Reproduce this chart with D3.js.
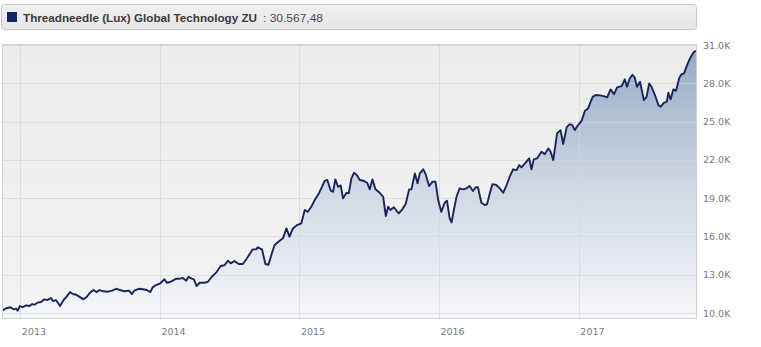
<!DOCTYPE html>
<html>
<head>
<meta charset="utf-8">
<script src="https://cdn.jsdelivr.net/npm/d3@7"></script>
<style>
  html, body { margin: 0; padding: 0; background: #fff; }
  svg { display: block; }
</style>
</head>
<body>
<svg id="chart" width="761" height="347"></svg>
<script>
// ---- data ----
const seriesName = "Threadneedle (Lux) Global Technology ZU";
const lastValueLabel = "30.567,48";
const yTickValues = [10, 13, 16, 19, 22, 25, 28, 31];           // in thousands
const yTickLabels = ["10.0K","13.0K","16.0K","19.0K","22.0K","25.0K","28.0K","31.0K"];
const xTickLabels = ["2013","2014","2015","2016","2017"];

const dates = [
"2012-11-14","2012-11-25","2012-12-06","2012-12-14","2012-12-21","2012-12-25","2012-12-31",
"2013-01-07","2013-01-16","2013-01-25","2013-02-01","2013-02-07","2013-02-15","2013-02-24",
"2013-03-05","2013-03-13","2013-03-22","2013-03-28","2013-04-04","2013-04-15","2013-04-24",
"2013-05-02","2013-05-11","2013-05-18","2013-05-27","2013-06-04","2013-06-15","2013-06-24",
"2013-07-02","2013-07-11","2013-07-20","2013-07-27","2013-08-06","2013-08-18","2013-08-29",
"2013-09-09","2013-09-19","2013-09-30","2013-10-12","2013-10-20","2013-10-26","2013-11-07",
"2013-11-17","2013-11-28","2013-12-07","2013-12-13","2013-12-22",
"2014-01-02","2014-01-13","2014-01-19","2014-01-28","2014-02-06","2014-02-13","2014-02-21",
"2014-03-02","2014-03-11","2014-03-17","2014-03-25","2014-03-31","2014-04-07","2014-04-15",
"2014-04-26","2014-05-06","2014-05-17","2014-05-28","2014-06-09","2014-06-19","2014-06-28",
"2014-07-05","2014-07-15","2014-07-26","2014-08-06","2014-08-15","2014-08-24","2014-09-01",
"2014-09-10","2014-09-14","2014-09-25","2014-10-04","2014-10-12","2014-10-21","2014-10-28",
"2014-11-07","2014-11-19","2014-11-28","2014-12-06","2014-12-15","2014-12-26",
"2015-01-06","2015-01-15","2015-01-23","2015-02-01","2015-02-10","2015-02-20","2015-03-01",
"2015-03-08","2015-03-15","2015-03-24","2015-03-30","2015-04-05","2015-04-12","2015-04-19",
"2015-04-25","2015-05-04","2015-05-10","2015-05-17","2015-05-24","2015-05-31","2015-06-08",
"2015-06-18","2015-06-27","2015-07-04","2015-07-11","2015-07-19","2015-07-30","2015-08-08",
"2015-08-15","2015-08-21","2015-08-27","2015-09-05","2015-09-12","2015-09-18","2015-09-27",
"2015-10-06","2015-10-15","2015-10-21","2015-10-30","2015-11-06","2015-11-12","2015-11-21",
"2015-11-27","2015-12-06","2015-12-15","2015-12-23","2015-12-30",
"2016-01-07","2016-01-16","2016-01-22","2016-01-29","2016-02-03","2016-02-09","2016-02-16",
"2016-02-24","2016-03-04","2016-03-13","2016-03-21","2016-03-30","2016-04-06","2016-04-12",
"2016-04-21","2016-04-30","2016-05-06","2016-05-13","2016-05-20","2016-05-30","2016-06-08",
"2016-06-17","2016-06-26","2016-07-04","2016-07-13","2016-07-22","2016-07-29","2016-08-04",
"2016-08-13","2016-08-24","2016-08-30","2016-09-05","2016-09-14","2016-09-25","2016-10-04",
"2016-10-13","2016-10-19","2016-10-26","2016-11-05","2016-11-14","2016-11-21","2016-11-30",
"2016-12-08","2016-12-15","2016-12-21","2016-12-30",
"2017-01-08","2017-01-17","2017-01-25","2017-02-06","2017-02-14","2017-02-25","2017-03-07",
"2017-03-16","2017-03-25","2017-04-03","2017-04-11","2017-04-23","2017-05-01","2017-05-07",
"2017-05-14","2017-05-21","2017-05-27","2017-06-02","2017-06-10","2017-06-20","2017-06-27",
"2017-07-04","2017-07-10","2017-07-19","2017-07-28","2017-08-03","2017-08-11","2017-08-19",
"2017-08-23","2017-08-29","2017-09-05","2017-09-12","2017-09-21","2017-09-27","2017-10-03",
"2017-10-11","2017-10-20","2017-10-29","2017-11-06"
];

// values in thousands
const values = [
10.16,10.37,10.45,10.29,10.34,10.18,10.55,
10.45,10.60,10.55,10.70,10.65,10.81,10.86,
11.07,11.02,11.17,10.92,11.02,10.55,11.02,
11.28,11.64,11.49,11.43,11.28,11.07,11.28,
11.59,11.80,11.64,11.80,11.70,11.67,11.75,
11.90,11.80,11.70,11.75,11.49,11.75,11.90,
11.86,11.80,11.64,12.01,12.19,
12.33,12.64,12.37,12.43,12.58,12.69,12.69,
12.74,12.53,12.84,12.69,12.64,12.11,12.37,
12.37,12.43,12.84,13.16,13.68,13.74,14.10,
13.89,14.07,13.84,13.84,14.21,14.62,14.99,
14.99,15.15,14.99,13.84,13.78,14.68,15.33,
15.58,15.85,16.63,15.98,16.63,16.89,
17.03,18.07,17.93,18.33,18.85,19.32,19.89,
20.36,20.42,19.58,19.50,20.47,19.89,20.00,
18.98,19.42,19.38,20.55,20.99,20.81,20.42,
20.36,20.21,19.69,20.47,19.69,19.42,19.11,
17.60,18.33,18.07,18.28,18.01,17.81,18.12,
18.54,19.69,19.69,20.94,20.16,20.94,21.26,
20.89,19.95,20.28,20.28,18.85,
17.93,18.64,18.80,17.42,17.10,18.07,19.11,
19.77,19.69,19.77,19.95,19.56,19.85,19.85,
18.64,18.46,18.54,19.38,20.10,20.03,19.77,
19.42,20.03,20.68,21.26,21.20,21.59,21.41,
21.73,22.12,21.26,22.04,22.12,22.63,22.45,
22.90,22.63,21.98,24.08,24.33,23.24,24.55,
24.80,24.73,24.33,24.73,
25.06,25.85,26.03,26.94,27.08,27.05,27.00,
26.90,27.52,27.15,27.68,27.78,28.31,27.73,
28.38,28.67,28.46,27.73,28.12,26.68,26.94,
27.99,27.73,27.08,26.29,26.16,26.47,26.55,
27.26,26.74,27.52,27.41,28.46,28.72,28.78,
29.43,30.03,30.47,30.57
];

// ---- layout ----
const svg = d3.select("#chart");
const plot = { left: 2, right: 697, top: 44, bottom: 319 };
const parse = d3.timeParse("%Y-%m-%d");
const data = dates.map((d, i) => ({ date: parse(d), value: values[i] }));

const x = d3.scaleTime()
  .domain(d3.extent(data, d => d.date))
  .range([plot.left, plot.right]);
const y = d3.scaleLinear()
  .domain([9.53, 31.08])
  .range([plot.bottom, plot.top]);

const defs = svg.append("defs");
const areaGrad = defs.append("linearGradient")
  .attr("id", "areaGrad").attr("gradientUnits", "userSpaceOnUse")
  .attr("x1", 0).attr("x2", 0).attr("y1", plot.top).attr("y2", plot.bottom);
areaGrad.append("stop").attr("offset", "0%").attr("stop-color", "#94a8c4");
areaGrad.append("stop").attr("offset", "55%").attr("stop-color", "#d2dae5");
areaGrad.append("stop").attr("offset", "100%").attr("stop-color", "#f6f7f9");

const legGrad = defs.append("linearGradient")
  .attr("id", "legGrad").attr("x1", 0).attr("x2", 0).attr("y1", 0).attr("y2", 1);
legGrad.append("stop").attr("offset", "0%").attr("stop-color", "#f0f0f0");
legGrad.append("stop").attr("offset", "100%").attr("stop-color", "#e6e6e6");

const bgGrad = defs.append("linearGradient")
  .attr("id", "bgGrad").attr("x1", 0).attr("x2", 0).attr("y1", 0).attr("y2", 1);
bgGrad.append("stop").attr("offset", "0%").attr("stop-color", "#ececec");
bgGrad.append("stop").attr("offset", "100%").attr("stop-color", "#f3f3f3");

const clip = defs.append("clipPath").attr("id", "plotClip");
clip.append("rect").attr("x", plot.left).attr("y", plot.top)
  .attr("width", plot.right - plot.left).attr("height", plot.bottom - plot.top);

// plot background
svg.append("rect")
  .attr("x", plot.left).attr("y", plot.top)
  .attr("width", plot.right - plot.left).attr("height", plot.bottom - plot.top)
  .attr("fill", "url(#bgGrad)");

// area
const area = d3.area()
  .x(d => x(d.date)).y0(plot.bottom).y1(d => y(d.value));
svg.append("path").datum(data)
  .attr("clip-path", "url(#plotClip)")
  .attr("d", area).attr("fill", "url(#areaGrad)");

// gridlines (drawn over area, faint)
const yearTicks = xTickLabels.map(t => parse(t + "-01-01"));
const grid = svg.append("g").attr("clip-path", "url(#plotClip)");
grid.selectAll("line.h").data(yTickValues).enter().append("line")
  .attr("x1", plot.left).attr("x2", plot.right)
  .attr("y1", d => Math.round(y(d)) + 0.5).attr("y2", d => Math.round(y(d)) + 0.5)
  .attr("stroke", "#d6d6d6").attr("stroke-opacity", 0.75).attr("stroke-width", 1);
grid.selectAll("line.v").data(yearTicks).enter().append("line")
  .attr("x1", d => Math.round(x(d)) + 0.5).attr("x2", d => Math.round(x(d)) + 0.5)
  .attr("y1", plot.top).attr("y2", plot.bottom)
  .attr("stroke", "#d6d6d6").attr("stroke-opacity", 0.75).attr("stroke-width", 1);

// line
const line = d3.line().x(d => x(d.date)).y(d => y(d.value));
svg.append("path").datum(data)
  .attr("clip-path", "url(#plotClip)")
  .attr("d", line).attr("fill", "none")
  .attr("stroke", "#18255a").attr("stroke-width", 1.9)
  .attr("stroke-linejoin", "round");

// plot border
svg.append("rect")
  .attr("x", plot.left + 0.5).attr("y", plot.top + 0.5)
  .attr("width", plot.right - plot.left - 1).attr("height", plot.bottom - plot.top - 1)
  .attr("fill", "none").attr("stroke", "#cfcfcf");

// y axis labels
const yAxis = d3.axisRight(y).tickValues(yTickValues)
  .tickFormat((d, i) => yTickLabels[i]).tickSize(0).tickPadding(0);
const yg = svg.append("g").attr("transform", `translate(${plot.right + 6},0)`).call(yAxis);
yg.select(".domain").remove();
yg.selectAll("text")
  .attr("font-family", "'DejaVu Sans', Verdana, sans-serif")
  .attr("font-size", "9.5px").attr("fill", "#7a7a7a");

// x axis labels
const xAxis = d3.axisBottom(x).tickValues(yearTicks)
  .tickFormat((d, i) => xTickLabels[i]).tickSize(0).tickPadding(0);
const xg = svg.append("g").attr("transform", `translate(0,${plot.bottom + 9})`).call(xAxis);
xg.select(".domain").remove();
xg.selectAll("text")
  .attr("text-anchor", "start").attr("dx", "1")
  .attr("font-family", "'DejaVu Sans', Verdana, sans-serif")
  .attr("font-size", "9.5px").attr("fill", "#7a7a7a");

// legend box
svg.append("rect")
  .attr("x", 2.5).attr("y", 6.5).attr("width", 694).attr("height", 24)
  .attr("rx", 3).attr("fill", "#dcdcdc").attr("opacity", 0.6);
svg.append("rect")
  .attr("x", 1.5).attr("y", 4.5).attr("width", 695).attr("height", 25)
  .attr("rx", 3).attr("fill", "url(#legGrad)").attr("stroke", "#c9c9c9");
svg.append("rect")
  .attr("x", 7).attr("y", 12).attr("width", 10).attr("height", 10)
  .attr("fill", "#15256a");
svg.append("text")
  .attr("x", 23).attr("y", 21.5)
  .attr("font-family", "'Liberation Sans', Arial, sans-serif")
  .attr("font-size", "11.5px").attr("font-weight", "bold").attr("fill", "#3a3a3a")
  .attr("textLength", 234).attr("lengthAdjust", "spacingAndGlyphs")
  .text(seriesName);
svg.append("text")
  .attr("x", 263).attr("y", 21.5)
  .attr("font-family", "'Liberation Sans', Arial, sans-serif")
  .attr("font-size", "11.5px").attr("fill", "#4a4a4a")
  .attr("textLength", 60).attr("lengthAdjust", "spacingAndGlyphs")
  .text(": " + lastValueLabel);
</script>
</body>
</html>
